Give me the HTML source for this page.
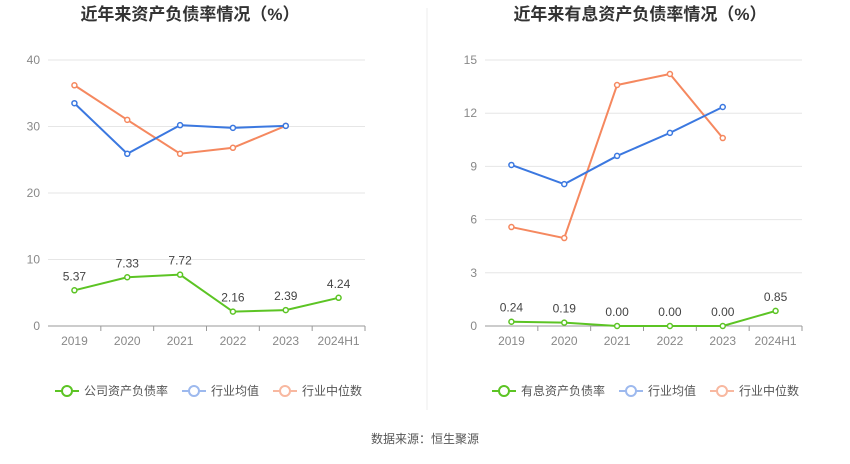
<!DOCTYPE html>
<html><head><meta charset="utf-8">
<style>
body{margin:0;background:#fff;font-family:"Liberation Sans","Noto Sans CJK SC",sans-serif;}
svg text{font-family:"Liberation Sans","Noto Sans CJK SC",sans-serif;}
</style></head>
<body>
<svg width="850" height="459" viewBox="0 0 850 459">
<line x1="427" y1="8" x2="427" y2="410" stroke="#eee"/>
<text x="190" y="20" text-anchor="middle" font-size="17" font-weight="bold" fill="#333">近年来资产负债率情况（%）</text>
<text x="640" y="20" text-anchor="middle" font-size="17" font-weight="bold" fill="#333">近年来有息资产负债率情况（%）</text>
<g id="left"></g>
<g id="right"></g>
<text x="425" y="443" text-anchor="middle" font-size="12" fill="#555">数据来源：恒生聚源</text>
</svg>
<script>
const categories=["2019","2020","2021","2022","2023","2024H1"];
const leftCompany=[5.37,7.33,7.72,2.16,2.39,4.24];
const leftAvg=[33.5,25.9,30.2,29.8,30.1];
const leftMedian=[36.2,31.0,25.9,26.8,30.1];
const leftTicks=[0,10,20,30,40];
const rightCompany=[0.24,0.19,0.00,0.00,0.00,0.85];
const rightAvg=[9.08,8.0,9.59,10.89,12.35];
const rightMedian=[5.58,4.96,13.59,14.21,10.6];
const rightTicks=[0,3,6,9,12,15];
const leftLabels=["5.37","7.33","7.72","2.16","2.39","4.24"];
const rightLabels=["0.24","0.19","0.00","0.00","0.00","0.85"];
const NS="http://www.w3.org/2000/svg";
function mk(parent,tag,attrs){const e=document.createElementNS(NS,tag);for(const k in attrs)e.setAttribute(k,attrs[k]);parent.appendChild(e);return e;}
function draw(g,opt){
 const x0=opt.x0,x1=opt.x1,yTop=60,yBot=326,max=opt.ticks[opt.ticks.length-1];
 const step=(x1-x0)/categories.length;
 const X=i=>x0+step*(i+0.5);
 const Y=v=>yBot-(v/max)*(yBot-yTop);
 opt.ticks.forEach(t=>{
  const l=mk(g,'line',{x1:x0,x2:x1,y1:Y(t),y2:Y(t),stroke:t===0?'#999':'#e6e6e6'});
  
  
  const tx=mk(g,'text',{x:x0-8,y:Y(t)+4,'text-anchor':'end','font-size':12,fill:'#888'});
  tx.textContent=t;
  
  
 });
 categories.forEach((c,i)=>{
  const tk=mk(g,'line',{x1:X(i)+step/2,x2:X(i)+step/2,y1:yBot,y2:yBot+5,stroke:'#999'});
  
  
  const tx=mk(g,'text',{x:X(i),y:yBot+19,'text-anchor':'middle','font-size':12,fill:'#888'});
  tx.textContent=c;
  
  
 });
 const series=[[opt.median,'#f5885f','median'],[opt.avg,'#3b78e0','average'],[opt.company,'#5cc424','company']];
 series.forEach(([d,col,nm])=>{
  const p=mk(g,'polyline',{points:d.map((v,i)=>X(i)+','+Y(v)).join(' '),fill:'none',stroke:col,'stroke-width':2});
  
  
  d.forEach((v,i)=>{
   const c=mk(g,'circle',{cx:X(i),cy:Y(v),r:2.5,fill:'#fff',stroke:col,'stroke-width':1.5});
   
   
  });
 });
 opt.company.forEach((v,i)=>{
  const t=mk(g,'text',{x:X(i),y:Y(v)-10,'text-anchor':'middle','font-size':12,fill:'#444'});
  t.textContent=opt.labels[i];
  
  
 });
 const leg=[[opt.legend,'#5cc424'],['行业均值','#9db9ee'],['行业中位数','#f8b8a0']];
 let lx=opt.legX;
 leg.forEach(([name,col],k)=>{
  const gg=mk(g,'g',{});
  
  
  mk(gg,'line',{x1:lx,x2:lx+24,y1:391,y2:391,stroke:col,'stroke-width':2});
  mk(gg,'circle',{cx:lx+12,cy:391,r:5,fill:'#fff',stroke:col,'stroke-width':2});
  const t=mk(gg,'text',{x:lx+29,y:395,'font-size':12,fill:'#555'});
  t.textContent=name;
  lx+=29+name.length*12+14;
 });
}
draw(document.getElementById('left'),{x0:48,x1:365,ticks:leftTicks,company:leftCompany,avg:leftAvg,median:leftMedian,labels:leftLabels,legend:'公司资产负债率',legX:55});
draw(document.getElementById('right'),{x0:485,x1:802,ticks:rightTicks,company:rightCompany,avg:rightAvg,median:rightMedian,labels:rightLabels,legend:'有息资产负债率',legX:492});
</script>
</body></html>
